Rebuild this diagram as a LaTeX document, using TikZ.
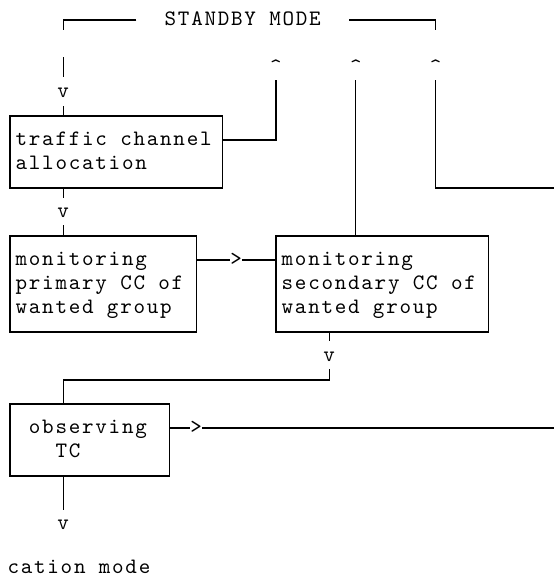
\documentclass[tikz,border=0pt]{standalone}
\usepackage{fontspec}
% Typewriter face, tracked out to a 13.3pt character pitch
\newfontfamily\asciifont{lmmono10-regular.otf}[LetterSpace=7.95]
\setlength\parindent{0pt}
% one text row of the grid: 17pt above the baseline, 7pt below
\newcommand\cellrow{\rule[-7pt]{0pt}{24pt}}
% one blank character cell
\newcommand\blankcell{\hspace*{13.3pt}}
\tikzset{
  glyph/.style={inner sep=0pt, anchor=base, yshift=-5pt,
    font=\asciifont\fontsize{22pt}{24pt}\selectfont},
  wire/.style={line width=1.2pt, line cap=butt},
  block/.style={draw, line width=1.2pt, inner xsep=5.65pt, inner ysep=12pt,
    align=left, font=\asciifont\fontsize{22pt}{24pt}\selectfont},
}
\begin{document}
\begin{tikzpicture}[x=13.3pt, y=-24pt]
% grid: one unit = one character column / one text row
\useasboundingbox (-0.7519,-0.8333) rectangle (40.9023,23.2917);
\clip (-0.7519,-0.8333) rectangle (40.9023,23.2917);

% --- labels, arrow glyphs ---
\node[glyph] (standby) at (17.5,0) {STANDBY\blankcell MODE};
\node[glyph] (upB) at (20,2) {\textasciicircum};
\node[glyph] (upC) at (26,2) {\textasciicircum};
\node[glyph] (upD) at (32,2) {\textasciicircum};
\node[glyph] (vA) at (4,3) {v};
\node[glyph] (vE) at (4,8) {v};
\node[glyph] (arrowF) at (17,10) {>};
\node[glyph] (vG) at (24,14) {v};
\node[glyph] (arrowH) at (14,17) {>};
\node[glyph] (vI) at (4,21) {v};
\node[glyph, anchor=base west] (modeText) at (-0.2,22.86) {cation\blankcell mode};

% --- boxes ---
\node[block, text width=201.5pt] (traffic) at (8,5.5)
  {\cellrow traffic\blankcell channel\\\cellrow allocation};
\node[block, text width=174.9pt] (primary) at (7,11)
  {\cellrow monitoring\\\cellrow primary\blankcell CC\blankcell of\\\cellrow wanted\blankcell group};
\node[block, text width=201.5pt] (secondary) at (28,11)
  {\cellrow monitoring\\\cellrow secondary\blankcell CC\blankcell of\\\cellrow wanted\blankcell group};
\node[block, text width=148.3pt] (observing) at (6,17.5)
  {\cellrow\blankcell observing\\\cellrow\blankcell\blankcell\blankcell TC};

% --- top bar around the mode title ---
\coordinate (barL) at (9.5,0);
\coordinate (barLend) at (4,0.42);
\coordinate (barR) at (25.5,0);
\coordinate (barRend) at (32,0.42);
\draw[wire] (barL) -| (barLend);
\draw[wire] (barR) -| (barRend);

% --- connectors ---
\coordinate (stubA) at (4,1.55);
\draw[wire, shorten >=10pt] (stubA) -- (vA.north);
\draw[wire, shorten <=9pt] (vA.south) -- (vA.south |- traffic.north);
\draw[wire, shorten <=7pt] (upB.south) |- ([yshift=12pt]traffic.east);
\draw[wire, shorten <=7pt] (upC.south) -- (upC.south |- secondary.north);
\coordinate (exitA) at (41.5,7);
\draw[wire, shorten <=7pt] (upD.south) |- (exitA);

\draw[wire, shorten >=9pt] (traffic.south -| vE) -- (vE.north);
\draw[wire, shorten <=8pt] (vE.south) -- (vE.south |- primary.north);

\coordinate (pOut) at ([yshift=24pt]primary.east);
\draw[wire] (pOut) -- (pOut -| arrowF.west);
\draw[wire] (pOut -| arrowF.east) -- (pOut -| secondary.west);

\draw[wire, shorten >=10pt] (secondary.south -| vG) -- (vG.north);
\coordinate (elbow) at (4,15);
\draw[wire, shorten <=8pt] (vG.south) |- (elbow) -- (elbow |- observing.north);

\coordinate (oOut) at ([yshift=12pt]observing.east);
\coordinate (exitB) at (41.5,17);
\draw[wire] (oOut) -- (oOut -| arrowH.west);
\draw[wire] (oOut -| arrowH.east) -- (exitB);

\draw[wire, shorten >=9.5pt] (observing.south -| vI) -- (vI.north);
\end{tikzpicture}
\end{document}
